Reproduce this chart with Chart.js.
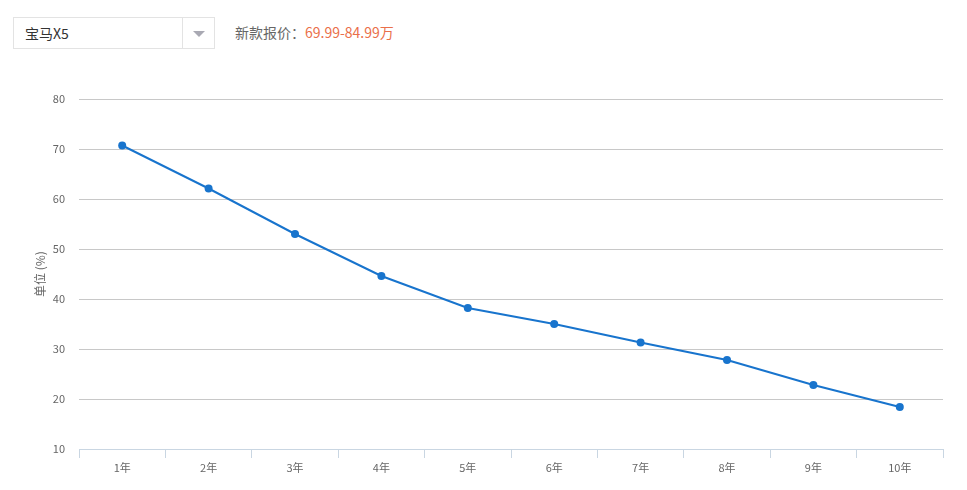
<!DOCTYPE html>
<html>
<head>
<meta charset="utf-8">
<script src="https://cdn.jsdelivr.net/npm/chart.js@4.4.0/dist/chart.umd.min.js"></script>
<style>
  body { margin: 0; background: #fff; font-family: 'Noto Sans CJK SC', sans-serif; }
  #wrap { position: relative; width: 967px; height: 490px; overflow: hidden; }
  .sel { position: absolute; left: 13px; top: 17px; width: 200px; height: 30px; border: 1px solid #e3e3e3; box-sizing: content-box; }
  .sel .name { position: absolute; left: 11px; top: 5px; font-size: 14px; color: #333; }
  .sel .btn { position: absolute; left: 168px; top: 0; width: 32px; height: 30px; border-left: 1px solid #e3e3e3; }
  .sel .btn:after { content: ''; position: absolute; left: 10px; top: 13px; border-left: 6px solid transparent; border-right: 6px solid transparent; border-top: 6px solid #a9a9b3; }
  .price { position: absolute; left: 235px; top: 22px; font-size: 14px; color: #666; }
  .price span { color: #ea6f4a; }
  #box { position: absolute; left: 0; top: 60px; width: 967px; height: 430px; }
</style>
</head>
<body>
<div id="wrap">
  <div class="sel"><div class="name">宝马X5</div><div class="btn"></div></div>
  <div class="price">新款报价：<span>69.99-84.99万</span></div>
  <div id="box"><canvas id="c"></canvas></div>
</div>
<script>
const years = ['1年', '2年', '3年', '4年', '5年', '6年', '7年', '8年', '9年', '10年'];
const retention = [70.7, 62.1, 53.0, 44.6, 38.2, 35.0, 31.3, 27.8, 22.8, 18.4];
const yTicks = [10, 20, 30, 40, 50, 60, 70, 80];

const font = "'Noto Sans CJK SC', sans-serif";

new Chart(document.getElementById('c'), {
  type: 'line',
  data: {
    labels: years,
    datasets: [{
      data: retention,
      borderColor: '#1874cd',
      backgroundColor: '#1874cd',
      borderWidth: 2,
      pointRadius: 4,
      pointBorderWidth: 0,
      tension: 0
    }]
  },
  options: {
    responsive: true,
    maintainAspectRatio: false,
    animation: false,
    layout: { padding: { top: 39, right: 24, left: 0, bottom: 0 } },
    plugins: { legend: { display: false }, tooltip: { enabled: false } },
    scales: {
      x: {
        offset: true,
        grid: { offset: true, drawOnChartArea: false, drawTicks: true, tickLength: 9, color: '#c9d6e2' },
        border: { color: '#c9d6e2' },
        ticks: { color: '#666', font: { family: font, size: 11 }, padding: 3 },
        afterFit: s => { s.height = 41; }
      },
      y: {
        min: 10, max: 80,
        afterBuildTicks: s => { s.ticks = yTicks.map(v => ({ value: v })); },
        grid: { color: '#c8c8c8', drawTicks: false },
        border: { display: false },
        ticks: { color: '#666', font: { family: font, size: 11 }, padding: 14 },
        title: { display: true, text: '单位 (%)', color: '#666', font: { family: font, size: 12 }, padding: { top: 33, bottom: 0 } },
        afterFit: s => { s.width = 79; }
      }
    }
  }
});
</script>
</body>
</html>
